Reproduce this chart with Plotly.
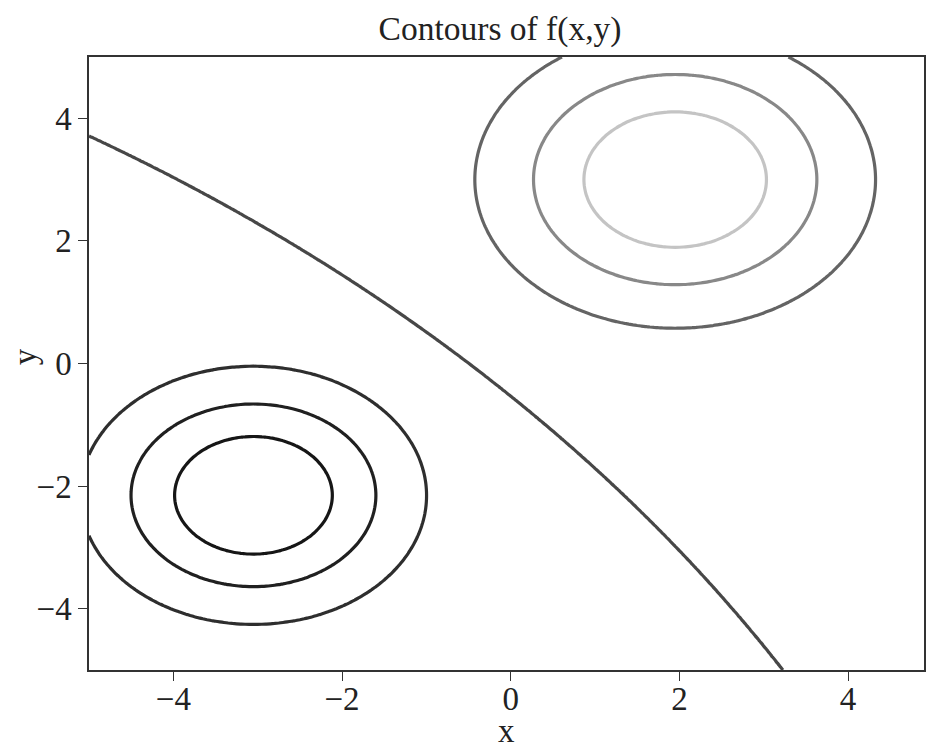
import numpy as np
import plotly.graph_objects as go

# Function parameters
peak_center = [1.95, 3.0]       # positive bump
peak_amp = 1.0
peak_scale_xy = [4.07, 4.24]
trough_center = [-3.05, -2.15]  # negative bump
trough_amp = -1.0
trough_scale_xy = [3.04, 3.2]

levels = [-0.75, -0.5, -0.25, 0.0, 0.25, 0.5, 0.75]
level_colors = ["#161616", "#202020", "#2e2e2e", "#474747", "#646464", "#888888", "#c4c4c4"]

x_grid = np.arange(-5, 5.0, 0.05)
y_grid = np.arange(-5, 5.05, 0.05)
X, Y = np.meshgrid(x_grid, y_grid)
Z = (peak_amp * np.exp(-(X - peak_center[0]) ** 2 / peak_scale_xy[0]
                       - (Y - peak_center[1]) ** 2 / peak_scale_xy[1])
     + trough_amp * np.exp(-(X - trough_center[0]) ** 2 / trough_scale_xy[0]
                           - (Y - trough_center[1]) ** 2 / trough_scale_xy[1]))

fig = go.Figure()
for lv, col in zip(levels, level_colors):
    fig.add_trace(go.Contour(
        x=x_grid, y=y_grid, z=Z,
        contours=dict(start=lv, end=lv, size=1, coloring="none"),
        line=dict(color=col, width=3.2),
        showscale=False, hoverinfo="skip",
    ))

font = "Liberation Serif, Times New Roman, serif"
axis_common = dict(
    showline=True, linecolor="#333333", linewidth=1.5, mirror=True,
    ticks="outside", ticklen=9, tickwidth=1.3, tickcolor="#333333",
    showgrid=False, zeroline=False, automargin=False,
    tickfont=dict(family=font, size=33, color="#222222"),
)
W, H = 938, 746
L, R, T, B = 81, 22, 49, 84
plot_w, plot_h = W - L - R, H - T - B
fig.update_layout(
    width=W, height=H,
    margin=dict(l=L, r=R, t=T, b=B),
    paper_bgcolor="white", plot_bgcolor="white",
    title=dict(text="Contours of f(x,y)", xref="paper", x=(492 - L) / plot_w, xanchor="center",
               yref="container", y=1 - 20 / H, yanchor="middle",
               font=dict(family=font, size=33.5, color="#222222")),
    showlegend=False,
    annotations=[
        dict(text="x", xref="paper", yref="paper", x=0.5, y=-(723 - (T + plot_h)) / plot_h,
             xanchor="center", yanchor="middle", showarrow=False,
             font=dict(family=font, size=33, color="#222222")),
        dict(text="y", xref="paper", yref="paper", x=(17 - L) / plot_w, y=0.51,
             xanchor="center", yanchor="middle", showarrow=False, textangle=-90,
             font=dict(family=font, size=33, color="#222222")),
    ],
)
fig.update_xaxes(range=[-5, 4.9], tickvals=[-4, -2, 0, 2, 4],
                 ticktext=["\u22124", "\u22122", "0", "2", "4"],
                 ticklabelstandoff=-10, **axis_common)
fig.update_yaxes(range=[-5, 5], tickvals=[-4, -2, 0, 2, 4],
                 ticktext=["\u22124", "\u22122", "0", "2", "4"], **axis_common)

fig.write_html("out.html")
